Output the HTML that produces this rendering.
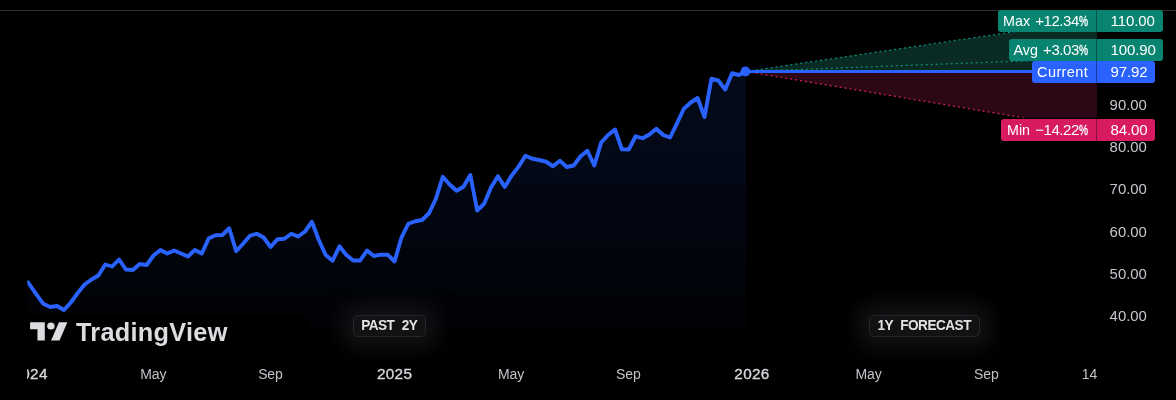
<!DOCTYPE html>
<html><head><meta charset="utf-8">
<style>
html,body{margin:0;padding:0;background:#000;}
body{width:1176px;height:400px;position:relative;overflow:hidden;font-family:"Liberation Sans",sans-serif;}
svg{position:absolute;left:0;top:0;}
.t{position:absolute;white-space:nowrap;color:#c4c7cd;font-size:15px;line-height:16px;height:16px;}
.tx{transform:translateX(-50%);top:366px;font-size:14px;letter-spacing:-0.15px;color:#bfc2c8;}
.b{color:#d6d8dd !important;-webkit-text-stroke:0.35px #d6d8dd;font-size:15.3px !important;letter-spacing:0.35px !important;}
.p{left:1109.6px;letter-spacing:0;font-size:14.9px;}
.lab{position:absolute;height:22px;line-height:22px;color:#fff;font-size:15px;white-space:nowrap;box-sizing:border-box;}
.ll{border-radius:3px 0 0 3px;text-align:right;padding-right:8.5px;border-right:1.5px solid rgba(0,0,0,0.36);}
.ll i{font-style:normal;font-size:14.3px;margin-right:1px;}
.ll b{font-weight:normal;letter-spacing:-0.45px;}
.pc{display:inline-block;width:8.7px;transform:scaleX(0.68);transform-origin:0 50%;letter-spacing:0;-webkit-text-stroke:0.35px #fff;}
.lr{border-radius:0 3px 3px 0;left:1097px;padding-left:13.6px;letter-spacing:-0.12px;}
.g{background:#088470;}
.bl{background:#2962ff;}
.r{background:#d81b60;box-shadow:0 -1.2px 0 #000;}
.badge{position:absolute;box-sizing:border-box;height:22.5px;line-height:20.5px;border:1px solid #26262a;border-radius:5px;background:#121214;color:#e2e2e4;font-weight:bold;font-size:13.6px;text-align:center;white-space:nowrap;word-spacing:4px;box-shadow:0 0 20px 11px rgba(19,19,21,0.95);}
.bt{display:inline-block;transform:scaleY(1.07);transform-origin:50% 55%;}
.logo{position:absolute;left:76px;top:316.6px;letter-spacing:0.28px;font-size:25.3px;line-height:30px;font-weight:bold;color:#dcdde0;white-space:nowrap;}
</style></head><body>
<svg width="1176" height="400" viewBox="0 0 1176 400">
<defs>
<linearGradient id="ag" x1="0" y1="70" x2="0" y2="350" gradientUnits="userSpaceOnUse">
<stop offset="0.0000" stop-color="#2962ff" stop-opacity="0.1"/>
<stop offset="0.4143" stop-color="#2962ff" stop-opacity="0.088"/>
<stop offset="0.4161" stop-color="#2962ff" stop-opacity="0.066"/>
<stop offset="0.6250" stop-color="#2962ff" stop-opacity="0.06"/>
<stop offset="0.6268" stop-color="#2962ff" stop-opacity="0.046"/>
<stop offset="0.7893" stop-color="#2962ff" stop-opacity="0.041"/>
<stop offset="0.7911" stop-color="#2962ff" stop-opacity="0.028"/>
<stop offset="0.9214" stop-color="#2962ff" stop-opacity="0.024"/>
<stop offset="0.9232" stop-color="#2962ff" stop-opacity="0"/>
<stop offset="1.0000" stop-color="#2962ff" stop-opacity="0"/>
</linearGradient>
<clipPath id="cp"><rect x="27.3" y="0" width="1150" height="400"/></clipPath>
</defs>
<rect x="0" y="10" width="1176" height="1" fill="#333336"/>
<path d="M27.90,282.20 L29.50,284.50 L36.39,294.40 L43.28,303.80 L50.16,307.00 L57.05,306.00 L63.94,310.00 L70.83,302.50 L77.72,293.00 L84.60,284.50 L91.49,279.50 L98.38,275.50 L105.27,264.50 L112.16,266.50 L119.04,259.50 L125.93,269.50 L132.82,270.00 L139.71,264.00 L146.60,265.00 L153.48,255.50 L160.37,250.00 L167.26,253.50 L174.15,250.50 L181.04,253.50 L187.92,256.50 L194.81,250.00 L201.70,253.60 L208.59,238.60 L215.48,235.20 L222.36,235.00 L229.25,228.25 L236.14,251.25 L243.03,243.75 L249.92,235.75 L256.80,233.75 L263.69,237.50 L270.58,247.00 L277.47,239.25 L284.36,238.75 L291.24,233.75 L298.13,236.50 L305.02,231.50 L311.91,221.75 L318.80,240.00 L325.68,255.00 L332.57,260.75 L339.46,246.25 L346.35,255.00 L353.24,260.50 L360.12,260.50 L367.01,250.50 L373.90,256.00 L380.79,254.70 L387.68,254.70 L394.56,261.50 L401.45,237.50 L408.34,223.75 L415.23,221.25 L422.12,220.00 L429.00,213.25 L435.89,198.75 L442.78,176.75 L449.67,184.50 L456.56,190.75 L463.44,186.75 L470.33,175.00 L477.22,210.50 L484.11,203.75 L491.00,187.50 L497.88,176.25 L504.77,186.90 L511.66,175.60 L518.55,166.60 L525.44,155.75 L532.32,158.75 L539.21,160.00 L546.10,161.75 L552.99,166.25 L559.88,160.75 L566.76,167.00 L573.65,165.50 L580.54,156.25 L587.43,150.75 L594.32,165.50 L601.20,142.50 L608.09,135.00 L614.98,129.50 L621.87,149.25 L628.76,149.50 L635.64,136.25 L642.53,138.25 L649.42,134.50 L656.31,128.75 L663.20,135.00 L670.08,137.50 L676.97,123.40 L683.86,108.75 L690.75,102.50 L697.64,98.00 L704.52,117.00 L711.41,78.75 L718.30,80.50 L725.19,89.50 L732.08,73.25 L738.96,75.00 L745.85,71.50 L745.85,350 L27.90,350 Z" fill="url(#ag)" clip-path="url(#cp)"/>
<rect x="0" y="315" width="309" height="16" fill="#000"/>
<polygon points="745.85,71.5 1097.0,19.5 1097.0,71.5" fill="#0a2a24"/>
<polygon points="745.85,71.5 1097.0,130.0 1097.0,71.5" fill="#2c0817"/>
<line x1="745.85" y1="71.5" x2="1097.0" y2="19.5" stroke="#0e8f79" stroke-width="1.25" stroke-dasharray="2 3"/>
<line x1="745.85" y1="71.5" x2="1097.0" y2="58.2" stroke="#0e8f79" stroke-width="1.25" stroke-dasharray="2 3"/>
<line x1="745.85" y1="71.5" x2="1097.0" y2="130.0" stroke="#d4215a" stroke-width="1.25" stroke-dasharray="2 3"/>
<line x1="745.85" y1="71.5" x2="1040" y2="71.5" stroke="#2962ff" stroke-width="2.8"/>
<path d="M27.90,282.20 L29.50,284.50 L36.39,294.40 L43.28,303.80 L50.16,307.00 L57.05,306.00 L63.94,310.00 L70.83,302.50 L77.72,293.00 L84.60,284.50 L91.49,279.50 L98.38,275.50 L105.27,264.50 L112.16,266.50 L119.04,259.50 L125.93,269.50 L132.82,270.00 L139.71,264.00 L146.60,265.00 L153.48,255.50 L160.37,250.00 L167.26,253.50 L174.15,250.50 L181.04,253.50 L187.92,256.50 L194.81,250.00 L201.70,253.60 L208.59,238.60 L215.48,235.20 L222.36,235.00 L229.25,228.25 L236.14,251.25 L243.03,243.75 L249.92,235.75 L256.80,233.75 L263.69,237.50 L270.58,247.00 L277.47,239.25 L284.36,238.75 L291.24,233.75 L298.13,236.50 L305.02,231.50 L311.91,221.75 L318.80,240.00 L325.68,255.00 L332.57,260.75 L339.46,246.25 L346.35,255.00 L353.24,260.50 L360.12,260.50 L367.01,250.50 L373.90,256.00 L380.79,254.70 L387.68,254.70 L394.56,261.50 L401.45,237.50 L408.34,223.75 L415.23,221.25 L422.12,220.00 L429.00,213.25 L435.89,198.75 L442.78,176.75 L449.67,184.50 L456.56,190.75 L463.44,186.75 L470.33,175.00 L477.22,210.50 L484.11,203.75 L491.00,187.50 L497.88,176.25 L504.77,186.90 L511.66,175.60 L518.55,166.60 L525.44,155.75 L532.32,158.75 L539.21,160.00 L546.10,161.75 L552.99,166.25 L559.88,160.75 L566.76,167.00 L573.65,165.50 L580.54,156.25 L587.43,150.75 L594.32,165.50 L601.20,142.50 L608.09,135.00 L614.98,129.50 L621.87,149.25 L628.76,149.50 L635.64,136.25 L642.53,138.25 L649.42,134.50 L656.31,128.75 L663.20,135.00 L670.08,137.50 L676.97,123.40 L683.86,108.75 L690.75,102.50 L697.64,98.00 L704.52,117.00 L711.41,78.75 L718.30,80.50 L725.19,89.50 L732.08,73.25 L738.96,75.00 L745.85,71.50" clip-path="url(#cp)" fill="none" stroke="#2962ff" stroke-width="3.9" stroke-linejoin="round" stroke-linecap="round"/>
<circle cx="745.45" cy="71.5" r="4.9" fill="#2962ff"/>
<g fill="#dcdde0" transform="translate(30.1,318.2) scale(1.05,1.01)">
<path d="M14 22H7V11H0V4h14v18zM28 22h-8l7.5-18h8L28 22z"/><circle cx="19.8" cy="7.7" r="3.55"/>
</g>
</svg>
<div class="logo">TradingView</div>

<div class="lab ll g" style="left:998px;top:10px;width:99px;"><i>Max</i> <b>+12.34<span class="pc">%</span></b></div>
<div class="lab lr g" style="top:10px;width:65.5px;">110.00</div>
<div class="lab ll g" style="left:1009px;top:39px;width:88px;"><i>Avg</i> <b>+3.03<span class="pc">%</span></b></div>
<div class="lab lr g" style="top:39px;width:65.5px;">100.90</div>
<div class="lab ll bl" style="left:1031.5px;top:60.5px;width:65.5px;"><i style="letter-spacing:0.42px;margin-right:-0.8px;font-size:14.5px">Current</i></div>
<div class="lab lr bl" style="top:60.5px;width:57.5px;">97.92</div>
<div class="lab ll r" style="left:1001px;top:119px;width:96px;"><i>Min</i> <b>−14.22<span class="pc">%</span></b></div>
<div class="lab lr r" style="top:119px;width:57.5px;">84.00</div>

<div class="t p" style="top:96.9px">90.00</div>
<div class="t p" style="top:139.1px">80.00</div>
<div class="t p" style="top:181.4px">70.00</div>
<div class="t p" style="top:223.7px">60.00</div>
<div class="t p" style="top:265.9px">50.00</div>
<div class="t p" style="top:308.2px">40.00</div>

<div style="position:absolute;left:27px;top:360px;width:60px;height:30px;overflow:hidden;"><div class="t b" style="left:-14.6px;top:6px;">2024</div></div>
<div class="t tx" style="left:153.3px">May</div>
<div class="t tx" style="left:270.4px">Sep</div>
<div class="t tx b" style="left:394.6px">2025</div>
<div class="t tx" style="left:511.1px">May</div>
<div class="t tx" style="left:628.3px">Sep</div>
<div class="t tx b" style="left:752px">2026</div>
<div class="t tx" style="left:868.6px">May</div>
<div class="t tx" style="left:986.3px">Sep</div>
<div class="t tx" style="left:1089.4px">14</div>

<div class="badge" style="left:352.5px;top:314.5px;width:73.5px;letter-spacing:-0.5px;"><span class="bt">PAST 2Y</span></div>
<div class="badge" style="left:868.5px;top:314.5px;width:111.5px;letter-spacing:-0.5px;"><span class="bt">1Y FORECAST</span></div>
</body></html>
